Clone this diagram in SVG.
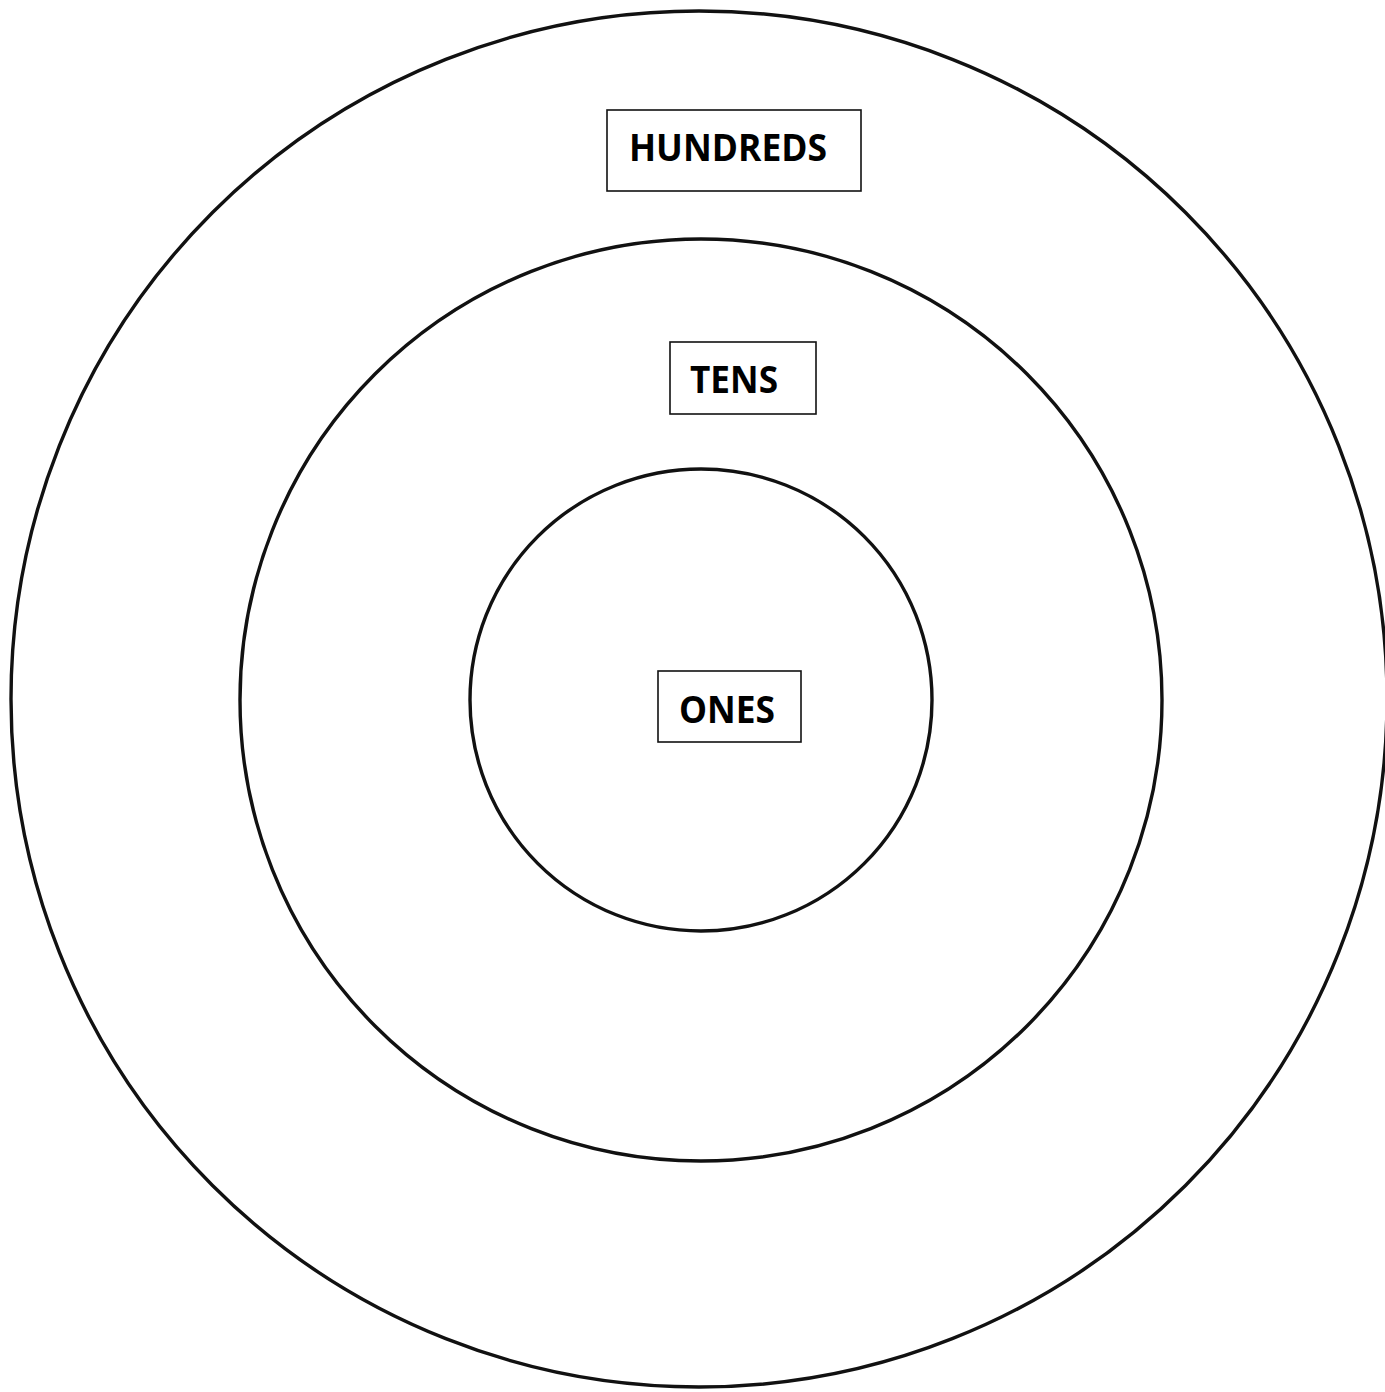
<svg xmlns="http://www.w3.org/2000/svg" width="1385" height="1392" viewBox="0 0 1385 1392">
<style>
.ring{fill:none;stroke:#111;stroke-width:3.4}
.box{fill:#fff;stroke:#111;stroke-width:1.6}
.lbl{font-family:"Open Sans","Liberation Sans",sans-serif;font-weight:bold;font-size:38px;fill:#000}
</style>
<rect width="1385" height="1392" fill="#fff"/>
<g id="rings">
<circle id="outer" class="ring" cx="699" cy="699" r="688"/>
<circle id="middle" class="ring" cx="701" cy="700" r="461"/>
<circle id="inner" class="ring" cx="701" cy="700" r="231"/>
</g>
<g id="hundreds">
<rect class="box" x="607" y="110" width="254" height="81"/>
<text class="lbl" x="629" y="161" textLength="198" lengthAdjust="spacingAndGlyphs">HUNDREDS</text>
</g>
<g id="tens">
<rect class="box" x="670" y="342" width="146" height="72"/>
<text class="lbl" x="690" y="393" textLength="88" lengthAdjust="spacingAndGlyphs">TENS</text>
</g>
<g id="ones">
<rect class="box" x="658" y="671" width="143" height="71"/>
<text class="lbl" x="679" y="723" textLength="96" lengthAdjust="spacingAndGlyphs">ONES</text>
</g>
<g id="connectors"/>
</svg>
